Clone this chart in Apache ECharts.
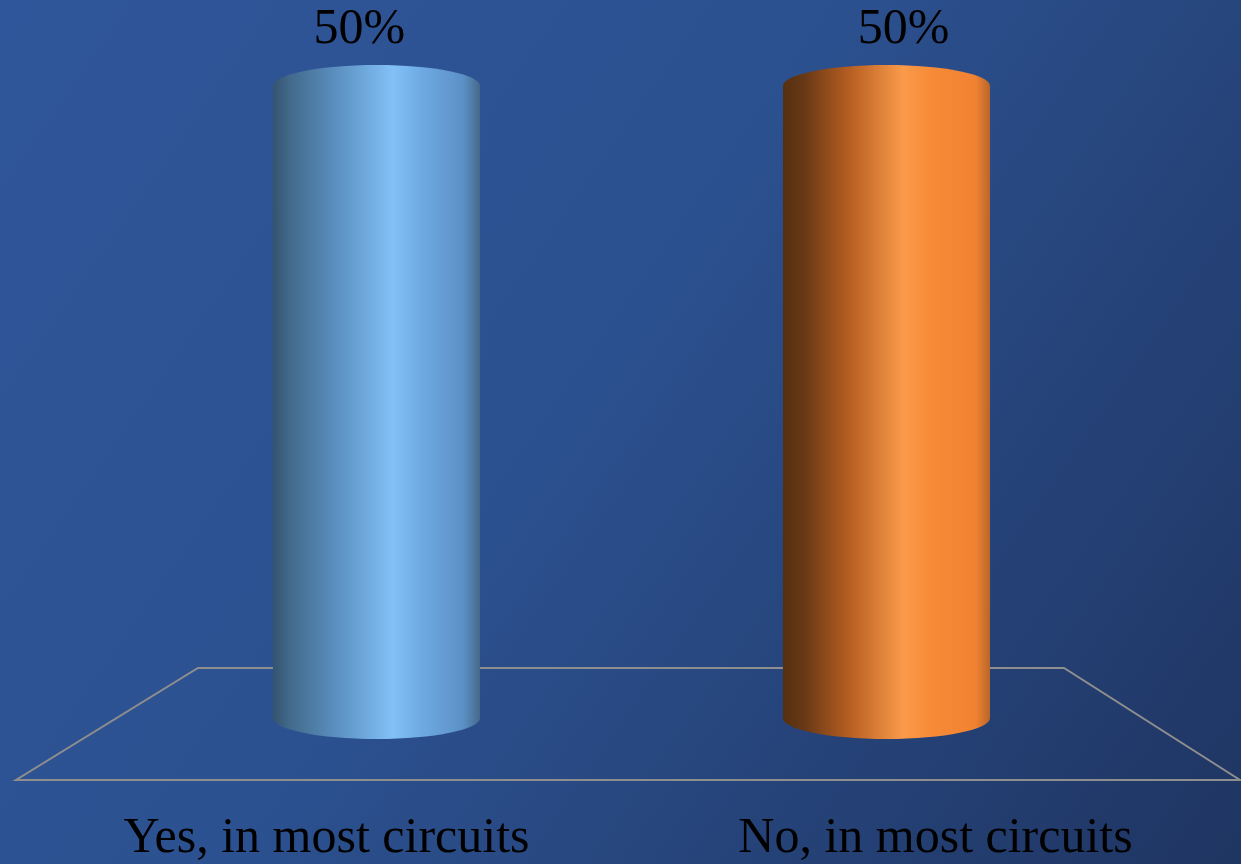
<!DOCTYPE html>
<html>
<head>
<meta charset="utf-8">
<script src="https://cdn.jsdelivr.net/npm/echarts@6/dist/echarts.min.js"></script>
<style>
  html, body { margin: 0; padding: 0; }
  #chart { width: 1241px; height: 864px; }
</style>
</head>
<body>
<div id="chart"></div>
<script>
// Survey answers and their shares (percent)
const categories = ['Yes, in most circuits', 'No, in most circuits'];
const shares = [50, 50];
const valueLabels = ['50%', '50%'];

// Cylinder shading, left to right across each column
const cylinderStops = [
  [[0, '#35536f'], [0.08, '#41698a'], [0.3, '#5a8fbf'], [0.58, '#82c0f6'], [0.72, '#6eaae2'], [0.92, '#5b90c6'], [1, '#45698a']],
  [[0, '#553010'], [0.1, '#673816'], [0.32, '#b65e22'], [0.58, '#fa9a4a'], [0.72, '#f68a36'], [0.93, '#f18232'], [1, '#b8662a']]
];

function linear(stops) {
  return new echarts.graphic.LinearGradient(0, 0, 1, 0,
    stops.map(s => ({ offset: s[0], color: s[1] })));
}

const chart = echarts.init(document.getElementById('chart'), null, { renderer: 'canvas' });

const PLOT_MID = 631.5;

function renderCylinder(params, api) {
  const idx = params.dataIndex;
  const top = api.coord([api.value(0), api.value(1)]);
  const base = api.coord([api.value(0), 0]);
  const band = api.size([1, 0])[0];
  const w = band * 0.406;
  const rx = w / 2;
  const ry = 21;
  const cx = top[0];
  const fill = linear(cylinderStops[idx]);
  // label sits a little outward from the column, following the floor perspective
  const lx = cx + (cx - PLOT_MID) * 0.067;
  return {
    type: 'group',
    children: [
      {
        type: 'rect',
        shape: { x: cx - rx, y: top[1], width: w, height: base[1] - top[1] },
        style: { fill: fill }
      },
      {
        type: 'ellipse',
        shape: { cx: cx, cy: base[1], rx: rx, ry: ry },
        style: { fill: fill }
      },
      {
        type: 'ellipse',
        shape: { cx: cx, cy: top[1], rx: rx, ry: ry },
        style: { fill: linear(cylinderStops[idx]) }
      },
      {
        type: 'text',
        style: {
          text: valueLabels[idx],
          x: lx,
          y: top[1] - ry - 10,
          textAlign: 'center',
          textVerticalAlign: 'bottom',
          fill: '#000000',
          font: '50px "Liberation Serif", "DejaVu Serif", serif'
        }
      }
    ]
  };
}

chart.setOption({
  animation: false,
  backgroundColor: new echarts.graphic.LinearGradient(0, 0, 1, 1, [
    { offset: 0, color: '#2f569a' },
    { offset: 0.45, color: '#2c5190' },
    { offset: 1, color: '#1f3562' }
  ]),
  grid: [
    { left: 121.5, right: 99.5, top: 86, bottom: 146 },
    { left: 22, right: 1, top: 700, bottom: 84 }
  ],
  xAxis: [
    {
      type: 'category', gridIndex: 0, data: categories,
      axisLine: { show: false }, axisTick: { show: false }, axisLabel: { show: false }
    },
    {
      type: 'category', gridIndex: 1, data: categories,
      axisLine: { show: false }, axisTick: { show: false },
      axisLabel: {
        margin: 41,
        color: '#000000',
        fontSize: 50,
        fontFamily: '"Liberation Serif", "DejaVu Serif", serif'
      }
    }
  ],
  yAxis: [
    { type: 'value', gridIndex: 0, min: 0, max: 50, show: false },
    { type: 'value', gridIndex: 1, show: false }
  ],
  graphic: [
    {
      type: 'polygon',
      z: 0,
      shape: { points: [[198, 668], [1064, 668], [1240, 780], [16, 780]] },
      style: { fill: 'none', stroke: '#8e8e8e', lineWidth: 2 }
    }
  ],
  series: [
    {
      type: 'custom',
      xAxisIndex: 0,
      yAxisIndex: 0,
      z: 5,
      renderItem: renderCylinder,
      data: categories.map((c, i) => [i, shares[i]])
    }
  ]
});
</script>
</body>
</html>
